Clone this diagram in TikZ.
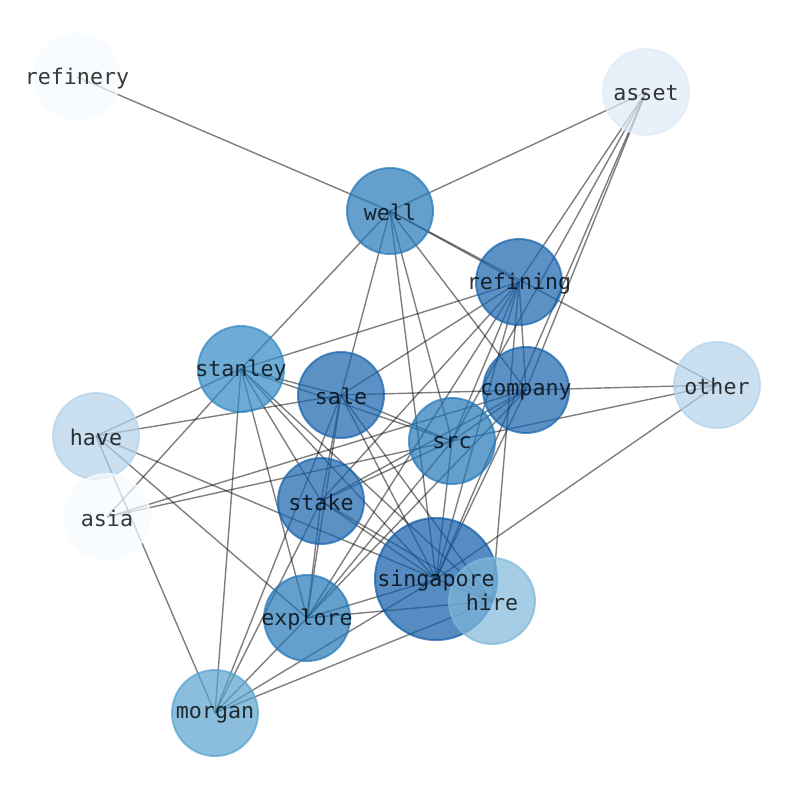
\documentclass[tikz,border=0pt]{standalone}
\usepackage{fontspec}
\setmonofont{DejaVu Sans Mono}
\usetikzlibrary{backgrounds}

\definecolor{bluA}{HTML}{F7FBFF}
\definecolor{bluB}{HTML}{DEEBF7}
\definecolor{bluC}{HTML}{B3D2EA}
\definecolor{bluD}{HTML}{7FB8DA}
\definecolor{bluE}{HTML}{58A2CD}
\definecolor{bluF}{HTML}{3189C4}
\definecolor{bluG}{HTML}{2377B8}
\definecolor{bluH}{HTML}{1663AD}
\definecolor{bluI}{HTML}{105BA8}

\tikzset{
  word/.style={circle, draw=#1, fill=#1, opacity=0.7,
    line width=1.4pt, minimum size=2.15cm, inner sep=0pt},
  bigword/.style={word=#1, minimum size=3.05cm},
  wtext/.style={text=black, text opacity=0.78, inner sep=0pt,
    font=\ttfamily\fontsize{15.4}{18}\selectfont},
  link/.style={black, opacity=0.5, line width=1pt}
}

\begin{document}
\begin{tikzpicture}[x=0.025cm, y=-0.025cm]
\useasboundingbox (0,0) rectangle (794,790);

\node[word=bluA] (refinery) at (77,77) {};
\node[word=bluB] (asset) at (646,92) {};
\node[word=bluG] (well) at (390,211) {};
\node[word=bluH] (refining) at (519,282) {};
\node[word=bluF] (stanley) at (241,369) {};
\node[word=bluH] (sale) at (341,395) {};
\node[word=bluH] (company) at (526,390) {};
\node[word=bluC] (other) at (717,385) {};
\node[word=bluC] (have) at (96,436) {};
\node[word=bluG] (src) at (452,441) {};
\node[word=bluA] (asia) at (107,517) {};
\node[word=bluH] (stake) at (321,501) {};
\node[bigword=bluI] (singapore) at (436,579) {};
\node[word=bluD] (hire) at (492,601) {};
\node[word=bluG] (explore) at (307,618) {};
\node[word=bluE] (morgan) at (215,713) {};

% words on top of all circles
\foreach \n in {refinery, asset, well, refining, stanley, sale, company, other,
    have, src, asia, stake, singapore, hire, explore, morgan}
  \node[wtext] at ([yshift=-1pt]\n) {\n};

% co-occurrence links
\begin{pgfonlayer}{background}
\foreach \a/\b in {refinery/well,
    asset/well, asset/refining, asset/src, asset/company, asset/singapore,
    well/refining, well/other, well/stanley, well/sale, well/src, well/company, well/singapore,
    refining/stanley, refining/sale, refining/company, refining/src, refining/stake,
    refining/singapore, refining/explore, refining/hire,
    company/other, company/sale, company/src, company/asia, company/stake,
    company/singapore, company/explore,
    other/singapore, other/src,
    stanley/sale, stanley/have, stanley/asia, stanley/morgan, stanley/explore,
    stanley/stake, stanley/singapore, stanley/hire, stanley/src,
    sale/have, sale/stake, sale/explore, sale/morgan, sale/src, sale/singapore, sale/hire,
    have/explore, have/morgan, have/singapore,
    asia/src,
    src/stake, src/singapore, src/explore,
    stake/singapore, stake/hire, stake/explore, stake/morgan,
    singapore/hire, singapore/explore, singapore/morgan,
    hire/explore, hire/morgan,
    explore/morgan}
  \draw[link] (\a.center) -- (\b.center);
\end{pgfonlayer}
\end{tikzpicture}
\end{document}
